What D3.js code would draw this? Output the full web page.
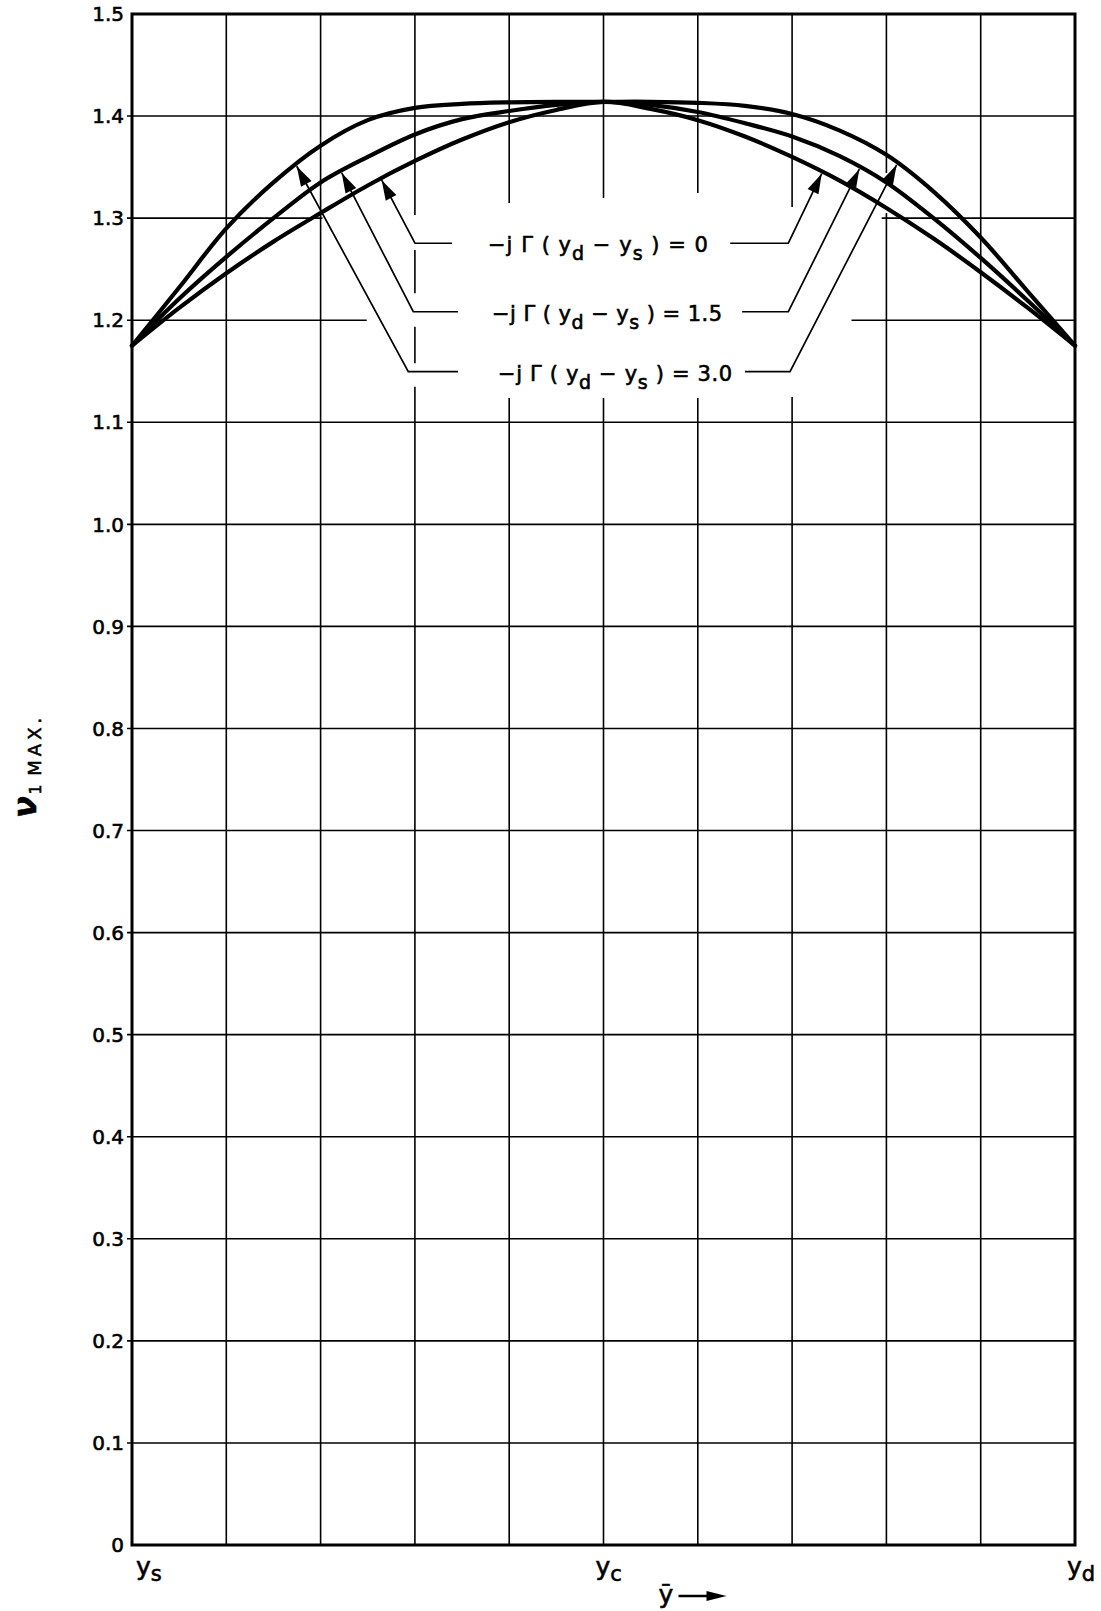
<!DOCTYPE html>
<html>
<head>
<meta charset="utf-8">
<script src="https://cdn.jsdelivr.net/npm/d3@7"></script>
<style>
  body { margin: 0; background: #fff; }
  svg { display: block; }
  text { font-family: "DejaVu Sans", "Liberation Sans", sans-serif; fill: #000; stroke: #000; stroke-width: 0.6px; }
</style>
</head>
<body>
<svg id="chart" width="1101" height="1611"></svg>
<script>
// Stations along the channel, y_s (0) .. y_c (5) .. y_d (10)
const stations = [0, 0.5, 1, 1.5, 2, 2.5, 3, 3.5, 4, 4.5, 5, 5.5, 6, 6.5, 7, 7.5, 8, 8.5, 9, 9.5, 10];

// ν1 max for -jΓ(yd - ys) = 0
const vZero = [1.175, 1.212, 1.246, 1.277, 1.305, 1.332, 1.356, 1.377, 1.394, 1.406, 1.414,
               1.407, 1.396, 1.380, 1.360, 1.337, 1.310, 1.280, 1.247, 1.212, 1.175];
// ν1 max for -jΓ(yd - ys) = 1.5
const vOneFive = [1.175, 1.221, 1.262, 1.300, 1.335, 1.360, 1.382, 1.397, 1.405, 1.411, 1.414,
                  1.411, 1.404, 1.393, 1.380, 1.361, 1.335, 1.300, 1.261, 1.219, 1.175];
// ν1 max for -jΓ(yd - ys) = 3.0
const vThree = [1.175, 1.232, 1.290, 1.335, 1.371, 1.396, 1.408, 1.412, 1.4135, 1.414, 1.414,
                1.414, 1.413, 1.410, 1.402, 1.386, 1.362, 1.326, 1.281, 1.228, 1.175];

const seriesLabels = ["0", "1.5", "3.0"];
const seriesValues = [vZero, vOneFive, vThree];

// Leader lines: arrow tip x on each curve (left / right), elbow x and label level
const leaderTipLeft = [2.648, 2.224, 1.747];
const leaderTipRight = [7.314, 7.713, 8.109];
const leaderElbowLeft = [3.001, 2.983, 2.930];
const leaderElbowRight = [6.960, 6.960, 6.978];
const leaderEndLeft = [3.393, 3.457, 3.457];
const leaderEndRight = [6.344, 6.470, 6.500];
const leaderLevel = [1.2754, 1.2083, 1.1496];
const labelStart = [3.775, 3.818, 3.881];
const labelEnd = [6.108, 6.257, 6.365];

// Axis ticks
const xGrid = d3.range(0, 11);
const yTickValues = d3.range(0, 16).map(d => d / 10);
const yTickLabels = ["0", "0.1", "0.2", "0.3", "0.4", "0.5", "0.6", "0.7", "0.8", "0.9",
                     "1.0", "1.1", "1.2", "1.3", "1.4", "1.5"];
const xTickPos = [0, 5, 10];
const xTickMain = ["y", "y", "y"];
const xTickSub = ["s", "c", "d"];

// Grid lines are left open where the labels and leaders sit
const vGridGaps = {
  3: [[1.2688, 1.3031], [1.1936, 1.2264], [1.1349, 1.1578]],
  4: [[1.1238, 1.3148]],
  5: [[1.1238, 1.3197]],
  6: [[1.1238, 1.3246]],
  7: [[1.1248, 1.3109]],
  8: [[1.3050, 1.3442]]
};
const hGridGaps = {
  13: [[2.02, 7.95]],
  12: [[2.49, 7.63]]
};

const svg = d3.select("#chart");
const W = 1101, H = 1611;
const margin = { left: 132, right: 26, top: 14, bottom: 66 };
const x = d3.scaleLinear().domain([0, 10]).range([margin.left, W - margin.right]);
const y = d3.scaleLinear().domain([0, 1.5]).range([H - margin.bottom, margin.top]);

function openSegments(lo, hi, gaps) {
  const segs = [];
  let start = lo;
  (gaps || []).slice().sort((a, b) => a[0] - b[0]).forEach(g => {
    segs.push([start, g[0]]);
    start = g[1];
  });
  segs.push([start, hi]);
  return segs;
}

const grid = svg.append("g").attr("stroke", "#000").attr("stroke-width", 1.6).attr("fill", "none");

// vertical grid lines
xGrid.slice(1, -1).forEach(i => {
  openSegments(0, 1.5, vGridGaps[i]).forEach(s => {
    grid.append("line")
      .attr("x1", x(i)).attr("x2", x(i))
      .attr("y1", y(s[0])).attr("y2", y(s[1]));
  });
});

// horizontal grid lines with small ticks past the left edge
yTickValues.forEach((v, k) => {
  if (k === 0 || k === yTickValues.length - 1) return;
  openSegments(0, 10, hGridGaps[k]).forEach((s, j) => {
    grid.append("line")
      .attr("x1", j === 0 ? x(s[0]) - 5 : x(s[0])).attr("x2", x(s[1]))
      .attr("y1", y(v)).attr("y2", y(v));
  });
});

// frame
svg.append("rect")
  .attr("x", x(0)).attr("y", y(1.5))
  .attr("width", x(10) - x(0)).attr("height", y(0) - y(1.5))
  .attr("fill", "none").attr("stroke", "#000").attr("stroke-width", 3);

// y tick labels
svg.append("g").selectAll("text")
  .data(yTickValues)
  .join("text")
  .attr("x", x(0) - 8)
  .attr("y", d => y(d))
  .attr("dy", "0.36em")
  .attr("text-anchor", "end")
  .attr("font-size", 20)
  .text((d, i) => yTickLabels[i]);

// x tick labels
xTickPos.forEach((p, i) => {
  const t = svg.append("text")
    .attr("x", i === 0 ? x(p) + 4 : x(p) - 8)
    .attr("y", y(0) + 30)
    .attr("font-size", 25);
  t.append("tspan").text(xTickMain[i]);
  t.append("tspan").attr("dy", 6).attr("font-size", 21).text(xTickSub[i]);
});

// axis caption under the centre station
const cap = svg.append("g").attr("transform", `translate(${x(5) + 55},${y(0) + 58})`);
cap.append("text").attr("x", 0).attr("y", 0).attr("font-size", 25).text("ȳ");
cap.append("line").attr("x1", 20).attr("x2", 56).attr("y1", -7).attr("y2", -7)
  .attr("stroke", "#000").attr("stroke-width", 2.4);
cap.append("path").attr("d", "M48,-12 L68,-7 L48,-2 Z").attr("fill", "#000");

// y axis title
const yt = svg.append("text")
  .attr("transform", `translate(36,818) rotate(-90)`)
  .attr("font-size", 32);
yt.append("tspan").attr("font-style", "italic").attr("font-weight", "bold").text("ν");
yt.append("tspan").attr("dy", 5).attr("dx", 2).attr("font-size", 15).text("1");
yt.append("tspan").attr("font-size", 18).attr("dx", 9).attr("letter-spacing", 4).text("MAX.");

// curves
const line = d3.line()
  .x((d, i) => x(stations[i]))
  .y(d => y(d))
  .curve(d3.curveCatmullRom.alpha(0.5));

svg.append("g").selectAll("path")
  .data(seriesValues)
  .join("path")
  .attr("d", d => line(d))
  .attr("fill", "none")
  .attr("stroke", "#000")
  .attr("stroke-width", 4.2)
  .attr("stroke-linejoin", "round")
  .attr("stroke-linecap", "round");

// value on a curve at station position s
function valueAt(vals, s) {
  const i = Math.min(stations.length - 2, Math.max(0, d3.bisectRight(stations, s) - 1));
  const t = (s - stations[i]) / (stations[i + 1] - stations[i]);
  return vals[i] + t * (vals[i + 1] - vals[i]);
}

function arrowHead(tip, from) {
  const dx = tip[0] - from[0], dy = tip[1] - from[1];
  const len = Math.hypot(dx, dy);
  const ux = dx / len, uy = dy / len;
  const L = 20, Wd = 6;
  const bx = tip[0] - ux * L, by = tip[1] - uy * L;
  return `M${tip[0]},${tip[1]} L${bx - uy * Wd},${by + ux * Wd} L${bx + uy * Wd},${by - ux * Wd} Z`;
}

const ann = svg.append("g");
seriesValues.forEach((vals, k) => {
  const ly = y(leaderLevel[k]);
  // left leader
  const tipL = [x(leaderTipLeft[k]), y(valueAt(vals, leaderTipLeft[k])) + 2];
  const elbowL = [x(leaderElbowLeft[k]), ly];
  ann.append("polyline")
    .attr("points", [tipL, elbowL, [x(leaderEndLeft[k]), ly]].map(p => p.join(",")).join(" "))
    .attr("fill", "none").attr("stroke", "#000").attr("stroke-width", 1.7);
  ann.append("path").attr("d", arrowHead(tipL, elbowL)).attr("fill", "#000");
  // right leader
  const tipR = [x(leaderTipRight[k]), y(valueAt(vals, leaderTipRight[k])) + 2];
  const elbowR = [x(leaderElbowRight[k]), ly];
  ann.append("polyline")
    .attr("points", [[x(leaderEndRight[k]), ly], elbowR, tipR].map(p => p.join(",")).join(" "))
    .attr("fill", "none").attr("stroke", "#000").attr("stroke-width", 1.7);
  ann.append("path").attr("d", arrowHead(tipR, elbowR)).attr("fill", "#000");

  // label
  const t = ann.append("text")
    .attr("x", x(labelStart[k]))
    .attr("y", ly + 9)
    .attr("font-size", 21)
    .attr("textLength", x(labelEnd[k]) - x(labelStart[k]))
    .attr("lengthAdjust", "spacing");
  t.append("tspan").text("−j Γ ( y");
  t.append("tspan").attr("dy", 8).attr("font-size", 19).text("d");
  t.append("tspan").attr("dy", -8).text(" − y");
  t.append("tspan").attr("dy", 8).attr("font-size", 19).text("s");
  t.append("tspan").attr("dy", -8).text(" ) = " + seriesLabels[k]);
});
</script>
</body>
</html>
